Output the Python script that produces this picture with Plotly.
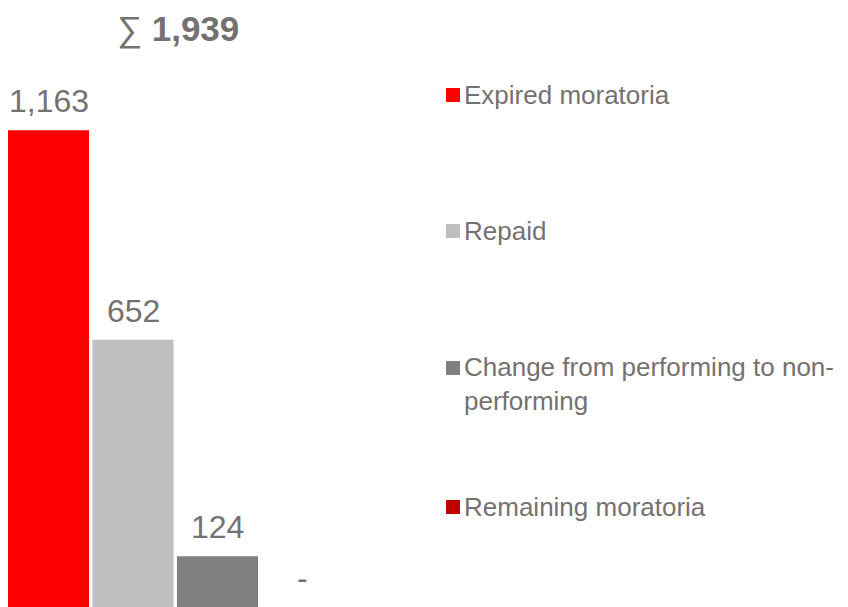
import plotly.graph_objects as go

categories = ["Expired moratoria", "Repaid", "Change from performing to non-performing", "Remaining moratoria"]
legend_labels = ["Expired moratoria", "Repaid", "Change from performing to non-<br>performing", "Remaining moratoria"]
values = [1163, 652, 124, 0]
colors = ["#FF0000", "#BFBFBF", "#7F7F7F", "#C00000"]
total_label = "∑ <b>1,939</b>"

# page has an 8px body margin, so the figure is 840x599
W, H = 840, 599
TEXT = "#767171"
FONT = "Liberation Sans, Arial, sans-serif"

labels = [f"{v:,}" if v else "-" for v in values]

fig = go.Figure()
fig.add_trace(go.Bar(
    x=categories, y=values,
    marker=dict(color=colors, line=dict(width=0)),
    showlegend=False, hoverinfo="skip",
))

# value labels over bars
for cat, v, lab in zip(categories, values, labels):
    fig.add_annotation(
        x=cat, y=v, text=lab, showarrow=False,
        xanchor="center", yanchor="bottom", yshift=9,
        font=dict(size=32, color=TEXT, family=FONT),
    )

# title (sum), kept inside the top edge
fig.add_annotation(
    xref="paper", yref="paper", x=108 / W, y=1,
    text=total_label, showarrow=False, xanchor="left", yanchor="top",
    borderpad=0,
    font=dict(size=35, color=TEXT, family=FONT),
)

# hand-made legend on the right
legend_y = [87, 223, 360, 499]
for lab, col, py in zip(legend_labels, colors, legend_y):
    fig.add_shape(
        type="rect", xref="paper", yref="paper",
        x0=438 / W, x1=452 / W, y0=1 - (py + 7) / H, y1=1 - (py - 7) / H,
        fillcolor=col, line=dict(width=0),
    )
    nlines = lab.count("<br>") + 1
    fig.add_annotation(
        xref="paper", yref="paper", x=454 / W, y=1 - (py + (nlines - 1) * 16) / H,
        text=lab, showarrow=False, xanchor="left", yanchor="middle", align="left",
        font=dict(size=26, color=TEXT, family=FONT),
    )

slot = 84.5
fig.update_layout(
    width=W, height=H,
    margin=dict(l=0, r=0, t=0, b=0),
    paper_bgcolor="white", plot_bgcolor="white",
    bargap=0.04,
    xaxis=dict(domain=[0, (4 * slot - 1.75) / W], range=[-0.5 + 1.75 / slot, 3.5], visible=False),
    yaxis=dict(range=[0, 1461], visible=False),
)

fig.write_html("out.html")
